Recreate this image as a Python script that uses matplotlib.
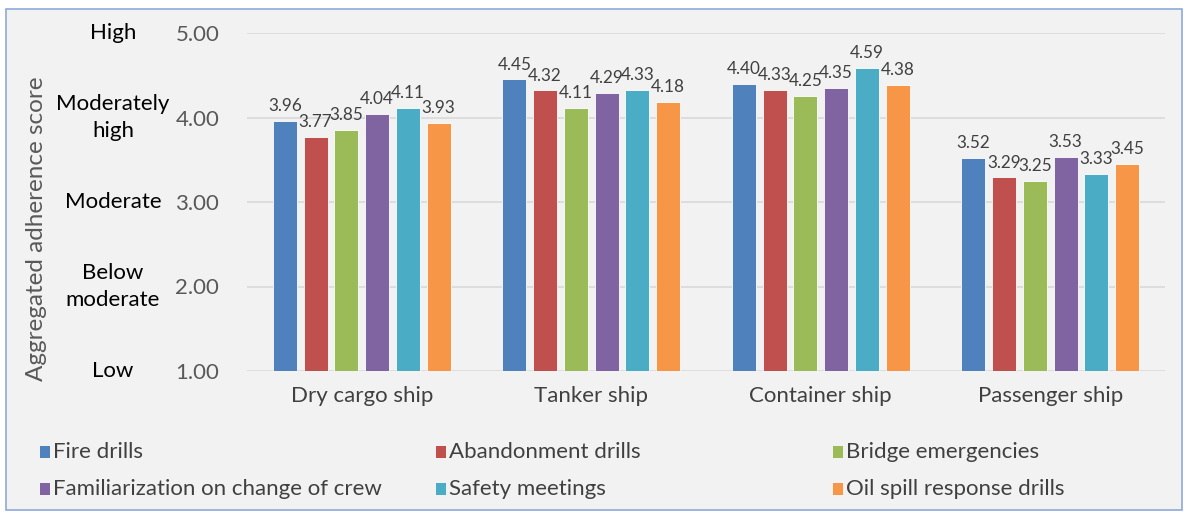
import numpy as np
import matplotlib.pyplot as plt
from matplotlib.patches import Rectangle

plt.rcParams['font.family'] = ['Lato', 'DejaVu Sans']

ships = ['Dry cargo ship', 'Tanker ship', 'Container ship', 'Passenger ship']
series = ['Fire drills', 'Abandonment drills', 'Bridge emergencies',
          'Familiarization on change of crew', 'Safety meetings',
          'Oil spill response drills']
fire = [3.96, 4.45, 4.40, 3.52]
abandon = [3.77, 4.32, 4.33, 3.29]
bridge = [3.85, 4.11, 4.25, 3.25]
famil = [4.04, 4.29, 4.35, 3.53]
safety = [4.11, 4.33, 4.59, 3.33]
oil = [3.93, 4.18, 4.38, 3.45]
values = [fire, abandon, bridge, famil, safety, oil]
colors = ['#4f81bd', '#c0504d', '#9bbb59', '#8064a2', '#4bacc6', '#f79646']
yticks = [1, 2, 3, 4, 5]
levels = ['Low', 'Below\nmoderate', 'Moderate', 'Moderately\nhigh', 'High']

W, H = 1187, 514
fig = plt.figure(figsize=(W / 100, H / 100), dpi=100)
fig.patch.set_facecolor('white')
fig.patches.append(Rectangle((6 / W, 4 / H), 1176 / W, 501 / H, transform=fig.transFigure,
                             facecolor='#f2f2f2', edgecolor='#8eaadb', lw=1.2, zorder=-10))

ax = fig.add_axes([247 / W, 1 - 371 / H, 918 / W, 338 / H])
ax.set_facecolor('none')
x = np.arange(len(ships))
pitch = 0.134
bw = 0.105
for i, (name, vals) in enumerate(zip(series, values)):
    xs = x + (i - 2.5) * pitch
    ax.bar(xs, np.array(vals) - 1, bw, bottom=1, color=colors[i],
           edgecolor='white', linewidth=0.6, zorder=3)
    for xi, v in zip(xs, vals):
        ax.annotate(f'{v:.2f}', (xi, v), xytext=(0, 5), textcoords='offset points',
                    ha='center', va='bottom', fontsize=12.3, color='#404040')

ax.set_xlim(-0.5, 3.5)
ax.set_ylim(1, 5)
ax.set_yticks(yticks)
ax.set_yticklabels([f'{t:.2f}' for t in yticks])
ax.set_xticks(x)
ax.set_xticklabels(ships)
ax.tick_params(axis='y', length=0, pad=20, labelsize=16, labelcolor='#595959')
ax.tick_params(axis='x', length=0, pad=11, labelsize=16, labelcolor='#404040')
ax.grid(axis='y', color='#d9d9d9', lw=1.2, zorder=0)
for s in ax.spines.values():
    s.set_visible(False)

# ordinal level labels next to the tick values
for t, lab in zip(yticks, levels):
    y_px = ax.transData.transform((0, t))[1]
    fig.text(113 / W, y_px / H, lab, ha='center', va='center',
             fontsize=16, color='black', linespacing=1.45)

fig.text(37 / W, 1 - 229 / H, 'Aggregated adherence score', rotation=90,
         ha='center', va='center', fontsize=17.5, color='#595959')

# legend, 3 columns x 2 rows
for i, name in enumerate(series):
    col, row = i % 3, i // 3
    lx = [40, 436, 833][col]
    ly = [452, 489][row]
    fig.patches.append(Rectangle((lx / W, 1 - (ly + 6) / H), 10 / W, 12 / H,
                                 transform=fig.transFigure, facecolor=colors[i]))
    fig.text((lx + 13) / W, 1 - ly / H, name, ha='left', va='center',
             fontsize=16, color='#404040')

fig.savefig('out.png', dpi=100, facecolor=fig.get_facecolor())
